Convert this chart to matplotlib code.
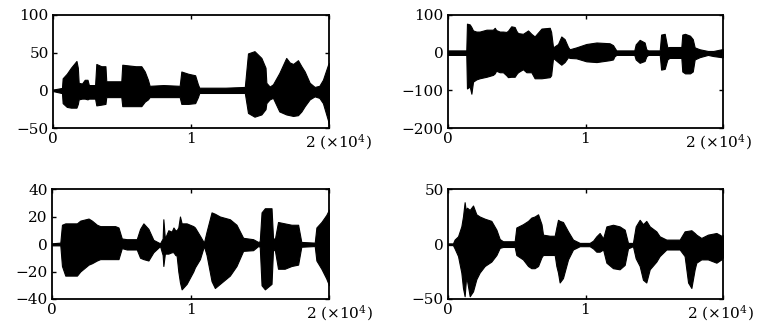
import matplotlib
matplotlib.use("Agg")
import matplotlib.pyplot as plt

plt.rcParams['font.family'] = 'serif'
plt.rcParams['font.serif'] = ['DejaVu Serif']
plt.rcParams['mathtext.fontset'] = 'dejavuserif'
plt.rcParams['font.size'] = 11

# ---- envelope data (sample index, upper, lower) ----
p1_x = [0, 600, 650, 700, 1000, 1300, 1700, 1800, 1860, 2100, 2300, 2500, 2600, 3050, 3140, 3500,
        3800, 3860, 4950, 5020, 5500, 6000, 6400, 6650, 6880, 7000, 8000, 9180, 9300, 9800, 10300,
        10500, 10600, 12500, 13900, 14130, 14600, 15100, 15400, 15460, 15700, 15940, 16400, 16900,
        17150, 17400, 17750, 18000, 18240, 18600, 18960, 19300, 19560, 19930, 20000]
p1_up = [1, 3, 3, 16, 22, 30, 39, 30, 10, 9, 14, 14, 7, 7, 35, 32,
         32, 12, 12, 34, 33, 32, 32, 25, 14, 6, 7, 6, 25, 22, 20,
         8, 3.5, 3.5, 4.5, 49, 52, 43, 30, 10, 5, 8, 23, 43,
         37, 35, 40, 32, 25, 10, 4.5, 6, 14, 34, 36]
p1_lo = [-1, -3.5, -3.5, -17, -22, -23, -23, -18, -12, -11, -11, -12, -11, -11, -20, -19,
         -18, -9, -9, -21, -21, -21, -21, -15, -12, -9, -9, -9, -18, -18, -17,
         -9, -3.5, -3.5, -3.5, -30, -35, -32, -25, -17, -12, -10, -28, -32,
         -33, -34, -33, -28, -21, -12, -8, -10, -17, -40, -45]

p2_x = [0, 1330, 1380, 1580, 1700, 1820, 2060, 2300, 2800, 3270, 3400, 3500, 3760, 4000, 4240, 4360,
        4600, 4850, 4970, 5090, 5450, 5700, 5820, 6060, 6300, 6800, 7400, 7500, 7640, 8000, 8240,
        8480, 8730, 8850, 9330, 10060, 10800, 11750, 12000, 12100, 12240, 13550, 13650, 13940,
        14300, 14420, 14550, 15400, 15500, 15760, 15950, 16100, 16970, 17040, 17240, 17600, 17800,
        17940, 18300, 18900, 19300, 19900, 20000]
p2_up = [6, 6, 77, 75, 68, 59, 56, 56, 61, 61, 66, 60, 56, 56, 55, 58,
         70, 68, 58, 52, 50, 56, 59, 50, 43, 64, 66, 55, 14, 23, 43,
         36, 15, 9, 14, 23, 27, 25, 20, 14, 6, 6, 22, 34,
         27, 9, 6, 6, 48, 50, 14, 15, 15, 48, 50, 45, 36,
         14, 9, 4.5, 4.5, 9, 9]
p2_lo = [-6, -6, -95, -90, -109, -77, -71, -68, -64, -59, -55, -48, -52, -52, -60, -65,
         -64, -64, -57, -52, -44, -52, -52, -52, -68, -68, -65, -60, -14, -25, -32,
         -25, -12, -14, -15, -23, -25, -20, -18, -10, -6, -6, -18, -27,
         -22, -10, -6, -6, -45, -43, -18, -14, -14, -50, -55, -55, -50,
         -18, -12, -6, -9, -12, -12]

p3_x = [0, 600, 720, 960, 1800, 2040, 2640, 2880, 3240, 3480, 4560, 4800, 5040, 5400, 6120, 6360,
        6600, 6960, 7320, 7800, 7990, 8040, 8150, 8400, 8640, 8770, 8900, 9000, 9120, 9240, 9360,
        9720, 10200, 10320, 10680, 10970, 11160, 11520, 11760, 12120, 12840, 13320, 13800, 14520,
        14880, 15000, 15130, 15370, 15850, 15960, 16100, 16320, 16800, 17290, 17770, 18000, 18970,
        19090, 19450, 19800, 20000]
p3_up = [0.5, 1, 14, 15, 15, 17, 18.5, 17, 14, 13, 13, 12, 4, 3.5, 3.5, 11,
         15, 11, 3, 0.5, 4, 18, 4, 10, 9, 12, 10, 10, 12, 20, 15,
         15, 13, 12, 6, 1, 9, 23, 22, 20, 18, 14, 4.5, 3.5,
         1.5, 2, 23, 26, 26, 4, 4, 16, 15, 14, 14, 1.5, 1,
         12, 16, 21, 25]
p3_lo = [-1, -1, -16, -23, -23, -20, -15, -14, -12, -11, -11, -11, -3, -4, -4, -10,
         -11, -12, -6, -1.5, -8, -16, -7, -7, -6, -6, -8, -8.5, -20, -28, -33,
         -29, -20, -17, -11, -1.5, -8, -27, -32, -29, -23, -16, -5, -4.5,
         -1.5, -2, -30, -33, -29, -3.5, -5, -18, -18, -16, -15, -2, -1.5,
         -12, -18, -25, -30]

p4_x = [0, 360, 480, 730, 970, 1090, 1210, 1300, 1380, 1580, 1820, 2060, 2300, 2670, 3150, 3520,
        3760, 4000, 4850, 4970, 5450, 5820, 6060, 6300, 6550, 6800, 6910, 7400, 7760, 7880, 8000,
        8120, 8360, 8730, 9090, 9580, 10300, 10550, 10790, 11030, 11280, 11520, 12000, 12480, 12850,
        13090, 13450, 13650, 13940, 14180, 14420, 14670, 15150, 15390, 15880, 16850, 17210, 17460,
        17700, 17940, 18060, 18420, 18900, 19520, 19880, 20000]
p4_up = [0.5, 0.5, 4, 7, 16, 25, 38, 30, 33, 31, 35, 27, 25, 23, 21, 13,
         4.5, 2.5, 2.5, 15, 18, 21, 24, 25, 27, 18, 8.5, 7.5, 7.5, 15, 22,
         21, 20, 11.5, 4, 1, 1, 3, 7, 10, 5, 16, 17.5, 16, 13,
         1, 1, 16, 22, 18, 21, 16, 11.5, 7, 4, 4, 11.5, 12,
         12.5, 10, 8.5, 5.5, 8.5, 10, 7.5, 8]
p4_lo = [-1, -1, -4, -11, -26, -40, -47.5, -33, -33, -47.5, -43, -32, -26, -20, -16, -10,
         -3.5, -2.7, -2.7, -10, -14, -20, -22, -22, -20, -12, -10, -10, -10, -20, -26,
         -35, -31, -14, -5, -2, -2, -4, -7, -7, -5, -17, -22, -23, -19,
         -4, -2, -13, -20, -32.5, -35, -23, -16, -11, -5, -5, -11, -35,
         -40, -23, -17, -14, -14, -17, -14, -12]

panels = [
    (p1_x, p1_up, p1_lo, (-50, 100), [-50, 0, 50, 100]),
    (p2_x, p2_up, p2_lo, (-200, 100), [-200, -100, 0, 100]),
    (p3_x, p3_up, p3_lo, (-40, 40), [-40, -20, 0, 20, 40]),
    (p4_x, p4_up, p4_lo, (-50, 50), [-50, 0, 50]),
]
x_ticks = [0, 10000, 20000]
x_labels = ['0', '1', '']
exp_label = '2 (×10$^{4}$)'

W, H = 782, 329
rects = [
    (53, 15, 329, 128),
    (448, 15, 723, 128),
    (52, 189, 329, 299),
    (448, 189, 723, 299),
]
label_pos = [0.913, 0.862, 0.918, 0.869]

fig = plt.figure(figsize=(W / 100, H / 100), dpi=100)
for (xs, up, lo, ylim, yt), (l, t, r, b), lp in zip(panels, rects, label_pos):
    ax = fig.add_axes([l / W, 1 - b / H, (r - l) / W, (b - t) / H])
    ax.fill_between(xs, lo, up, color='black', linewidth=0.8, edgecolor='black')
    ax.plot([0, 20000], [0, 0], color='black', linewidth=0.8)
    ax.set_xlim(0, 20000)
    ax.set_ylim(*ylim)
    ax.set_yticks(yt)
    ax.set_xticks(x_ticks)
    ax.set_xticklabels(x_labels)
    ax.tick_params(direction='in', length=3, width=1, top=True, right=True, pad=3)
    for s in ax.spines.values():
        s.set_linewidth(1.3)
    ax.annotate(exp_label, xy=(lp, 0), xycoords='axes fraction', xytext=(0, -3),
                textcoords='offset points', ha='left', va='top', fontsize=11)

fig.savefig('out.png', dpi=100)
